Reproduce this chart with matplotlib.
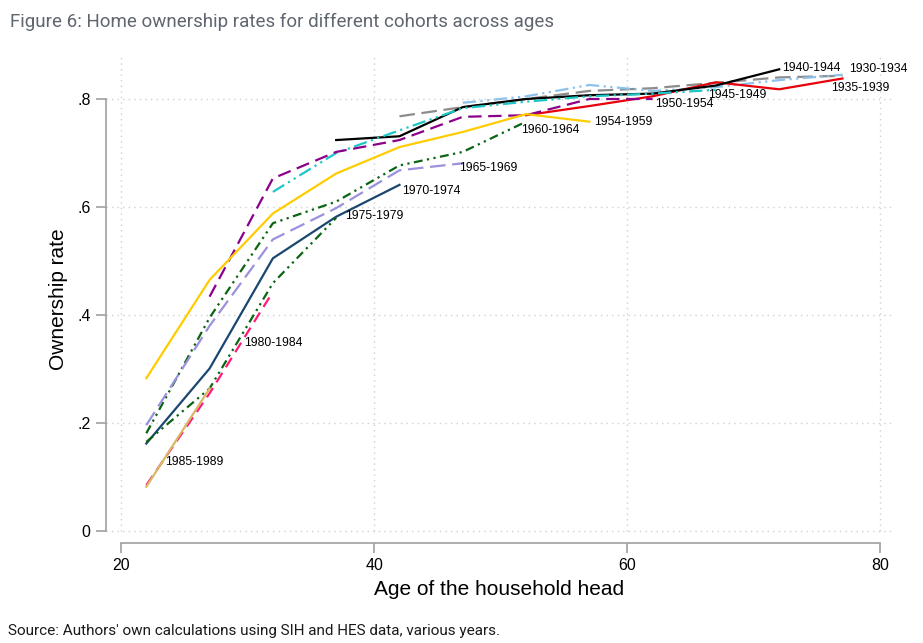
import matplotlib
matplotlib.use("Agg")
import matplotlib.pyplot as plt

# ages (cohort mid-points)
edades = [22, 27, 32, 37, 42, 47, 52, 57, 62, 67, 72, 77]

# ownership rate per cohort: (first age, values)
c1985 = [0.082, 0.264]
c1980 = [0.085, 0.255, 0.443]
c1975 = [0.165, 0.264, 0.459, 0.580]
c1970 = [0.162, 0.301, 0.505, 0.582, 0.641]
c1965 = [0.196, 0.380, 0.540, 0.598, 0.668, 0.681]
c1960 = [0.181, 0.395, 0.570, 0.610, 0.677, 0.702, 0.758]
c1954 = [0.283, 0.465, 0.588, 0.662, 0.711, 0.739, 0.772, 0.758]
c1950 = [0.434, 0.653, 0.702, 0.724, 0.767, 0.770, 0.800, 0.800]
c1945 = [0.628, 0.700, 0.742, 0.783, 0.795, 0.805, 0.810, 0.817]
c1940 = [0.724, 0.731, 0.785, 0.800, 0.807, 0.810, 0.825, 0.855]
c1935 = [0.770, 0.787, 0.805, 0.831, 0.818, 0.838]
c1930 = [0.768, 0.785, 0.800, 0.815, 0.820, 0.830, 0.840, 0.843]
c_extra = [0.793, 0.805, 0.826, 0.815, 0.822, 0.835, 0.845]

# (values, first age, colour, dash)
series = [
    (c1930, 42, "#8c8c8c", (0, (7, 3))),
    (c_extra, 47, "#8cc1ea", (0, (6, 2, 1, 2, 1, 2))),
    (c1935, 52, "#e8000b", "-"),
    (c1940, 37, "#000000", "-"),
    (c1945, 32, "#1fc6c6", (0, (6, 2, 1, 2, 1, 2))),
    (c1950, 27, "#8b008b", (0, (6, 3))),
    (c1954, 22, "#ffcc00", "-"),
    (c1960, 22, "#0a6414", (0, (4, 2, 1, 2, 1, 2))),
    (c1965, 22, "#9a92dc", (0, (7, 3))),
    (c1970, 22, "#1a476f", "-"),
    (c1975, 22, "#0a6414", (0, (4, 2, 1, 2, 1, 2))),
    (c1980, 22, "#ff1a7a", (0, (5, 3))),
    (c1985, 22, "#d8b865", "-"),
]

etiquetas = ["1940-1944", "1930-1934", "1935-1939", "1945-1949", "1950-1954",
             "1954-1959", "1960-1964", "1965-1969", "1970-1974", "1975-1979",
             "1980-1984", "1985-1989"]
etiq_x = [72.2, 77.5, 76.1, 66.4, 62.2, 57.4, 51.6, 46.7, 42.2, 37.7, 29.7, 23.5]
etiq_y = [0.857, 0.855, 0.820, 0.807, 0.791, 0.757, 0.743, 0.672, 0.630, 0.583, 0.348, 0.128]

fig = plt.figure(figsize=(9.23, 6.43), dpi=100)
ax = fig.add_axes([106 / 923, 1 - 543 / 643, (893 - 106) / 923, (543 - 55) / 643])

ax.set_xlim(18.815, 80.99)
ax.set_ylim(-0.0222, 0.8815)

# grid
y0 = (0 - ax.get_ylim()[0]) / (ax.get_ylim()[1] - ax.get_ylim()[0])
for gx in [20, 40, 60, 80]:
    ax.axvline(gx, ymin=y0, ymax=1, color="#d0d0d0", lw=1, ls=(0, (1, 3)), zorder=0)
for gy in [0, 0.2, 0.4, 0.6, 0.8]:
    ax.axhline(gy, color="#d0d0d0", lw=1, ls=(0, (1, 3)), zorder=0)

for vals, a0, col, ls in series:
    i0 = edades.index(a0)
    xs = edades[i0:i0 + len(vals)]
    ax.plot(xs, vals, color=col, ls=ls, lw=1.6)

for t, x, y in zip(etiquetas, etiq_x, etiq_y):
    ax.text(x, y, t, fontsize=8.8, va="center", ha="left", family="Liberation Sans")

for s in ["top", "right"]:
    ax.spines[s].set_visible(False)
ax.spines["left"].set_bounds(0, 0.8)
ax.spines["bottom"].set_bounds(20, 80)
for s in ["left", "bottom"]:
    ax.spines[s].set_color("#a0a0a0")
    ax.spines[s].set_linewidth(1.2)

ax.set_xticks([20, 40, 60, 80])
ax.set_yticks([0, 0.2, 0.4, 0.6, 0.8])
ax.set_yticklabels(["0", ".2", ".4", ".6", ".8"])
ax.tick_params(axis="both", length=7, width=1.2, color="#a0a0a0", labelsize=11.5, pad=4)
for lab in ax.get_xticklabels() + ax.get_yticklabels():
    lab.set_family("Liberation Sans")

ax.set_xlabel("Age of the household head", fontsize=15, family="Liberation Sans", labelpad=5)
ax.set_ylabel("Ownership rate", fontsize=15, family="Liberation Sans", labelpad=7)

fig.text(10 / 923, 1 - 22 / 643, "Figure 6: Home ownership rates for different cohorts across ages",
         fontsize=13.5, color="#5f6670", family="Roboto", va="center", ha="left")
fig.text(8 / 923, 1 - 631 / 643, "Source: Authors' own calculations using SIH and HES data, various years.",
         fontsize=11, color="#1a1a1a", family="Roboto", va="center", ha="left")

fig.savefig("out.png", dpi=100)
